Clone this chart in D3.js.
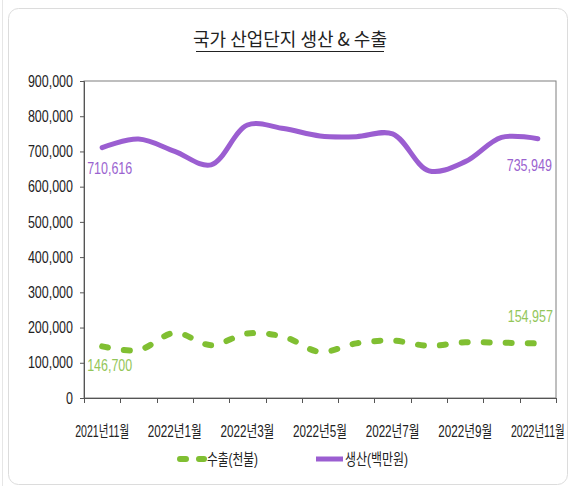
<!DOCTYPE html>
<html>
<head>
<meta charset="utf-8">
<script src="https://cdn.jsdelivr.net/npm/d3@7"></script>
<style>
  body { margin: 0; background: #fff; }
  text { font-family: "Liberation Sans", "Noto Sans CJK KR", sans-serif; }
</style>
</head>
<body>
<div id="vis"></div>
<script>
// 월별 카테고리
const months = ["2021년11월", "2021년12월", "2022년1월", "2022년2월", "2022년3월", "2022년4월",
  "2022년5월", "2022년6월", "2022년7월", "2022년8월", "2022년9월", "2022년10월", "2022년11월"];

// 생산(백만원) - 양 끝값만 정확, 나머지는 그림에서 읽은 추정치
const production = [710616, 735000, 700000, 662000, 775000, 765000, 744000, 742000, 750000, 645000, 671000, 740000, 735949];
// 수출(천불)
const exports_ = [146700, 136000, 185000, 150000, 183000, 174000, 131000, 155000, 163000, 148000, 158000, 157000, 154957];

const yTicks = [0, 100000, 200000, 300000, 400000, 500000, 600000, 700000, 800000, 900000];
const xLabelMonths = ["2021년11월", "2022년1월", "2022년3월", "2022년5월", "2022년7월", "2022년9월", "2022년11월"];

const W = 569, H = 486;
const plot = { left: 84, right: 556, top: 81, bottom: 398 };

const svg = d3.select("#vis").append("svg").attr("width", W).attr("height", H);

// 좁은 글꼴 흉내: 자연 폭에 비율 곱하기
function squeeze(sel, k) {
  sel.each(function () {
    const w = this.getComputedTextLength();
    d3.select(this).attr("textLength", w * k).attr("lengthAdjust", "spacingAndGlyphs");
  });
}

// 바깥 테두리
svg.append("line").attr("x1", 2.5).attr("x2", 2.5).attr("y1", 0).attr("y2", H)
  .attr("stroke", "#e6e6e6");
svg.append("rect")
  .attr("x", 8.5).attr("y", 8.5).attr("width", 559).attr("height", 476).attr("rx", 10)
  .attr("fill", "#fff").attr("stroke", "#dcdcdc");

// 제목
svg.append("text")
  .attr("x", 290).attr("y", 46).attr("text-anchor", "middle")
  .attr("font-size", 18).attr("fill", "#222")
  .style("font-family", "'Noto Sans CJK KR', sans-serif")
  .text("국가 산업단지 생산 & 수출");
svg.append("line").attr("x1", 196).attr("x2", 384).attr("y1", 51.5).attr("y2", 51.5)
  .attr("stroke", "#222").attr("stroke-width", 1.2);

// 스케일
const x = d3.scaleBand().domain(months).range([plot.left, plot.right]);
const y = d3.scaleLinear().domain([0, 900000]).range([plot.bottom, plot.top]);
const cx = d => x(d) + x.bandwidth() / 2;

// 플롯 테두리
svg.append("rect")
  .attr("x", plot.left).attr("y", plot.top)
  .attr("width", plot.right - plot.left).attr("height", plot.bottom - plot.top)
  .attr("fill", "none").attr("stroke", "#7f7f7f");

// y축
const yAxis = svg.append("g")
  .attr("transform", `translate(${plot.left},0)`)
  .call(d3.axisLeft(y).tickValues(yTicks).tickFormat(d3.format(",")).tickSizeOuter(0).tickSize(4).tickPadding(7));
yAxis.select(".domain").attr("stroke", "#555");
yAxis.selectAll(".tick line").attr("stroke", "#555");
yAxis.selectAll(".tick text").attr("font-size", 16).attr("fill", "#222")
  .style("font-family", "'Liberation Sans', sans-serif");
squeeze(yAxis.selectAll(".tick text"), 0.78);

// x축 (경계 눈금)
const xg = svg.append("g");
xg.append("line").attr("x1", plot.left).attr("x2", plot.right)
  .attr("y1", plot.bottom + 0.5).attr("y2", plot.bottom + 0.5).attr("stroke", "#555");
const bounds = months.map(m => x(m)).concat([plot.right]);
xg.selectAll("line.tick").data(bounds).enter().append("line")
  .attr("class", "tick")
  .attr("x1", d => Math.round(d) + 0.5).attr("x2", d => Math.round(d) + 0.5)
  .attr("y1", plot.bottom).attr("y2", plot.bottom + 5).attr("stroke", "#555");
// 레이블은 가로로 눌러서 좁은 글꼴처럼
xg.selectAll("g.xl").data(xLabelMonths).enter().append("g")
  .attr("class", "xl")
  .each(function (d) {
    const g = d3.select(this);
    const t = g.append("text").attr("text-anchor", "middle")
      .attr("font-size", 16).attr("fill", "#222").text(d);
    const sx = 54 / t.node().getComputedTextLength();
    g.attr("transform", `translate(${cx(d)},437) scale(${sx},1)`);
  });

// 선
const line = d3.line()
  .x((d, i) => cx(months[i]))
  .y(d => y(d))
  .curve(d3.curveCatmullRom.alpha(0.5));

const purple = "#9b5ed1", purpleText = "#9a63cf";
const green = "#80bf32", greenText = "#93c659";

svg.append("path").datum(production)
  .attr("d", line).attr("fill", "none")
  .attr("stroke", purple).attr("stroke-width", 5).attr("stroke-linecap", "round");

svg.append("path").datum(exports_)
  .attr("d", line).attr("fill", "none")
  .attr("stroke", green).attr("stroke-width", 6)
  .attr("stroke-linecap", "round").attr("stroke-dasharray", "6,16");

// 데이터 레이블 (처음/끝)
const fmt = d3.format(",");
const last = months.length - 1;
const labels = [
  { v: production[0], i: 0, dx: -15, dy: 26, anchor: "start", c: purpleText },
  { v: production[last], i: last, dx: 14, dy: 32, anchor: "end", c: purpleText },
  { v: exports_[0], i: 0, dx: -15, dy: 25, anchor: "start", c: greenText },
  { v: exports_[last], i: last, dx: 15, dy: -21, anchor: "end", c: greenText }
];
const lt = svg.selectAll("text.dl").data(labels).enter().append("text")
  .attr("class", "dl")
  .attr("x", d => cx(months[d.i]) + d.dx)
  .attr("y", d => y(d.v) + d.dy)
  .attr("text-anchor", d => d.anchor)
  .attr("font-size", 16).attr("fill", d => d.c)
  .text(d => fmt(d.v));
squeeze(lt, 0.78);

// 범례
const lg = svg.append("g");
lg.append("line").attr("x1", 180).attr("x2", 204).attr("y1", 459).attr("y2", 459)
  .attr("stroke", green).attr("stroke-width", 6).attr("stroke-linecap", "round")
  .attr("stroke-dasharray", "6,13");
lg.append("text").attr("x", 207).attr("y", 465).attr("font-size", 16).attr("fill", "#222")
  .attr("textLength", 51).attr("lengthAdjust", "spacingAndGlyphs")
  .text("수출(천불)");
lg.append("line").attr("x1", 316).attr("x2", 343).attr("y1", 459).attr("y2", 459)
  .attr("stroke", purple).attr("stroke-width", 5);
lg.append("text").attr("x", 345).attr("y", 465).attr("font-size", 16).attr("fill", "#222")
  .attr("textLength", 63).attr("lengthAdjust", "spacingAndGlyphs")
  .text("생산(백만원)");
</script>
</body>
</html>
